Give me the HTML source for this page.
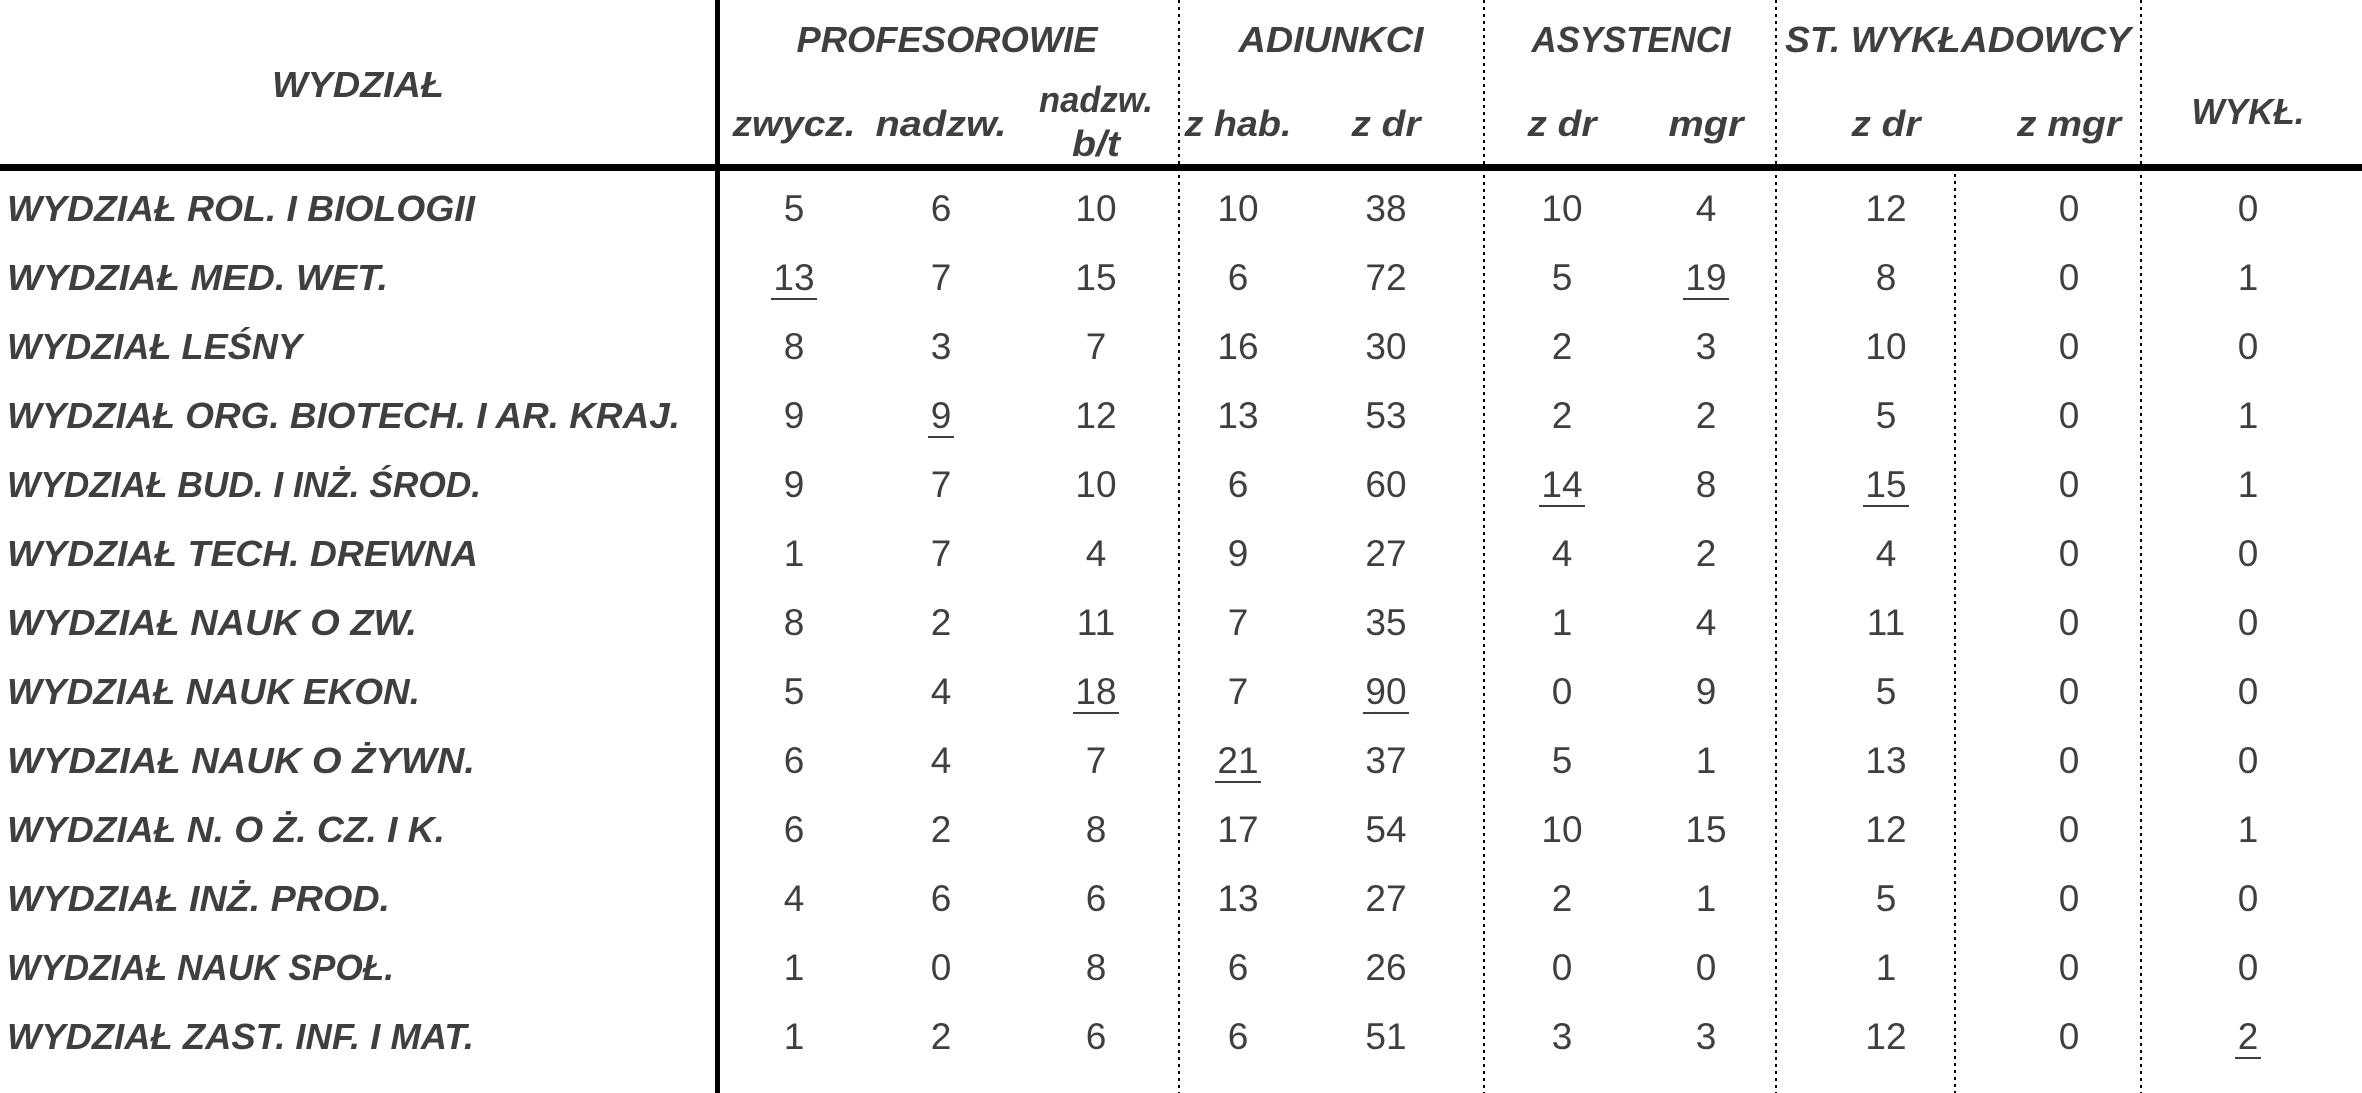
<!DOCTYPE html>
<html><head><meta charset="utf-8"><style>
html,body{margin:0;padding:0;background:#fff;}
svg{display:block;}
text{font-family:"Liberation Sans",sans-serif;fill:#3f3f3f;}
.h{font-weight:bold;font-style:italic;font-size:36px;}
.n{font-size:37px;}
</style></head><body>
<svg id="t" width="2362" height="1093" viewBox="0 0 2362 1093" xmlns="http://www.w3.org/2000/svg"></svg>
<script>
const faculties=["WYDZIAŁ ROL. I BIOLOGII","WYDZIAŁ MED. WET.","WYDZIAŁ LEŚNY","WYDZIAŁ ORG. BIOTECH. I AR. KRAJ.","WYDZIAŁ BUD. I INŻ. ŚROD.","WYDZIAŁ TECH. DREWNA","WYDZIAŁ NAUK O ZW.","WYDZIAŁ NAUK EKON.","WYDZIAŁ NAUK O ŻYWN.","WYDZIAŁ N. O Ż. CZ. I K.","WYDZIAŁ INŻ. PROD.","WYDZIAŁ NAUK SPOŁ.","WYDZIAŁ ZAST. INF. I MAT."];
const labelWidths=[468,381,295,673,474,471,410,413,468,438,383,387,467];
const columns=["zwycz","nadzw","nadzw-bt","z-hab","adiunkci-z-dr","asyst-z-dr","asyst-mgr","stw-z-dr","stw-z-mgr","wykl"];
const values=[
[5,6,10,10,38,10,4,12,0,0],
[13,7,15,6,72,5,19,8,0,1],
[8,3,7,16,30,2,3,10,0,0],
[9,9,12,13,53,2,2,5,0,1],
[9,7,10,6,60,14,8,15,0,1],
[1,7,4,9,27,4,2,4,0,0],
[8,2,11,7,35,1,4,11,0,0],
[5,4,18,7,90,0,9,5,0,0],
[6,4,7,21,37,5,1,13,0,0],
[6,2,8,17,54,10,15,12,0,1],
[4,6,6,13,27,2,1,5,0,0],
[1,0,8,6,26,0,0,1,0,0],
[1,2,6,6,51,3,3,12,0,2]];
const underlined=[[1,0],[1,6],[3,1],[4,5],[4,7],[7,2],[7,4],[8,3],[12,9]];
const colX=[794,941,1096,1238,1386,1562,1706,1886,2069,2248];
const svg=document.getElementById('t');
const NS='http://www.w3.org/2000/svg';
function mk(tag,attrs,txt){const e=document.createElementNS(NS,tag);for(const k in attrs)e.setAttribute(k,attrs[k]);if(txt!==undefined)e.textContent=txt;svg.appendChild(e);return e;}
function rowY(i){return 208+i*69;}
let l=mk('rect',{x:0,y:164,width:2362,height:7,fill:'#000'});


l=mk('rect',{x:715,y:0,width:5,height:1093,fill:'#000'});


[[1179,0],[1484,0],[1776,0],[1955,167],[2141,0]].forEach(d=>{
 const v=mk('line',{x1:d[0],x2:d[0],y1:d[1],y2:1093,stroke:'#000','stroke-width':2,'stroke-dasharray':'3,4'});
 
 
});
const heads=[["WYDZIAŁ",358,97,172],["PROFESOROWIE",947,52,301],["ADIUNKCI",1331,52,185],["ASYSTENCI",1631,52,199],["ST. WYKŁADOWCY",1958,52,346],["WYKŁ.",2248,124,113],
["zwycz.",794,136,123],["nadzw.",941,136,131],["nadzw.",1096,112,114],["b/t",1096,156,48],["z hab.",1238,136,107],["z dr",1386,136,69],["z dr",1562,136,69],["mgr",1706,136,75],["z dr",1886,136,69],["z mgr",2069,136,104]];
heads.forEach(h=>{
 const t=mk('text',{x:h[1],y:h[2],'text-anchor':'middle',class:'h',textLength:h[3],lengthAdjust:'spacingAndGlyphs'},h[0]);
 
 
});
faculties.forEach((f,i)=>{
 const t=mk('text',{x:7,y:rowY(i)+13,class:'h',textLength:labelWidths[i],lengthAdjust:'spacingAndGlyphs'},f);
 
 
 values[i].forEach((v,j)=>{
  const c=mk('text',{x:colX[j],y:rowY(i)+13,'text-anchor':'middle',class:'n'},String(v));
  
  
  if(underlined.some(u=>u[0]===i&&u[1]===j)){
   const w=String(v).length*20+6;
   const u=mk('rect',{x:colX[j]-w/2,y:rowY(i)+21,width:w,height:2,fill:'#3f3f3f'});
   
   
  }
 });
});
</script>
</body></html>
